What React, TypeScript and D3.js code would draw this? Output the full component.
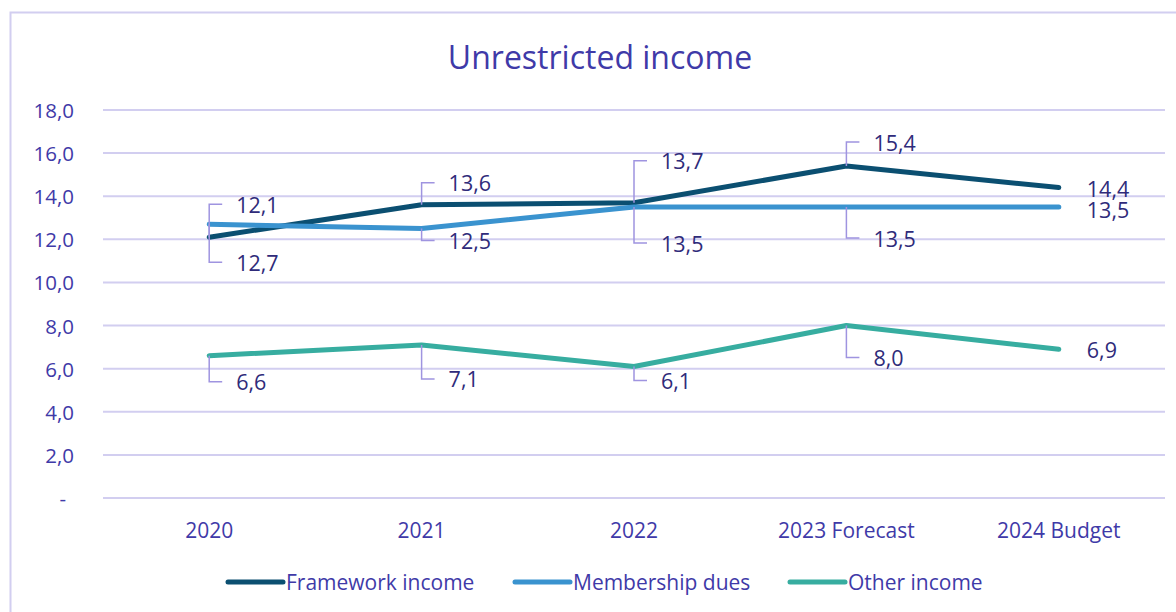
import React from "react";
import * as d3 from "d3";

const categories = ["2020", "2021", "2022", "2023 Forecast", "2024 Budget"];
const frameworkIncome = [12.1, 13.6, 13.7, 15.4, 14.4];
const membershipDues = [12.7, 12.5, 13.5, 13.5, 13.5];
const otherIncome = [6.6, 7.1, 6.1, 8.0, 6.9];
const yTicks = [0, 2, 4, 6, 8, 10, 12, 14, 16, 18];

const seriesNames = ["Framework income", "Membership dues", "Other income"];
const seriesColors = ["#0B4F71", "#3A93CF", "#37ADA0"];

// label vertical offsets (px) relative to the point, and whether a leader line is drawn
const labelOffsets = [
  [-33, -22, -42, -24, 1],
  [38, 12, 36, 31, 2],
  [26, 34, 14, 32, 0],
];
const hasLeader = [
  [true, true, true, true, false],
  [true, true, true, true, false],
  [true, true, true, true, false],
];

const W = 1176;
const H = 612;
const FONT = "'Open Sans', sans-serif";
const TEXT = "#3F3AA8";
const LABEL = "#2F2B7A";
const GRID = "#D2CEF0";
const LEADER = "#9F94E0";

export default function App() {
  const x = d3.scalePoint<string>().domain(categories).range([103, 1165]).padding(0.5);
  const y = d3.scaleLinear().domain([0, 18]).range([498, 110]);
  const series = [frameworkIncome, membershipDues, otherIncome];
  const line = d3
    .line<number>()
    .x((_, i) => x(categories[i]) as number)
    .y((d) => y(d));
  const fmt = (v: number) => (v === 0 ? "-" : d3.format(".1f")(v).replace(".", ","));
  const legendX = [228, 515, 790];

  return (
    <svg width={W} height={H} style={{ position: "absolute", left: 0, top: 0, background: "#fff" }}>
      <rect x={10.5} y={12.5} width={1200} height={700} fill="#fff" stroke={GRID} strokeWidth={2} />
      <text x={600} y={56} textAnchor="middle" dominantBaseline="central" fontFamily={FONT} fontSize={32} fill={TEXT}>
        Unrestricted income
      </text>
      {yTicks.map((t) => (
        <g key={t}>
          <line x1={103} x2={1165} y1={y(t)} y2={y(t)} stroke={GRID} strokeWidth={2} />
          <text x={t === 0 ? 66 : 74} y={y(t)} textAnchor="end" dominantBaseline="central" fontFamily={FONT} fontSize={20.5} fill={TEXT}>
            {fmt(t)}
          </text>
        </g>
      ))}
      {categories.map((c) => (
        <text key={c} x={x(c)} y={530} textAnchor="middle" dominantBaseline="central" fontFamily={FONT} fontSize={21} fill={TEXT}>
          {c}
        </text>
      ))}
      {series.map((s, si) => (
        <path key={si} d={line(s) as string} fill="none" stroke={seriesColors[si]} strokeWidth={5} strokeLinecap="round" strokeLinejoin="round" />
      ))}
      {series.map((s, si) =>
        s.map((v, i) => {
          const px = x(categories[i]) as number;
          const py = y(v);
          const off = labelOffsets[si][i];
          const ly = py + off;
          const lead = hasLeader[si][i];
          return (
            <g key={`${si}-${i}`}>
              {lead && (
                <path d={`M${px},${py}V${ly}H${px + 13}`} fill="none" stroke={LEADER} strokeWidth={1.5} />
              )}
              <text
                x={lead ? px + 27 : px + 28}
                y={ly}
                dominantBaseline="central"
                fontFamily={FONT}
                fontSize={21.5}
                fill={LABEL}
              >
                {fmt(v)}
              </text>
            </g>
          );
        })
      )}
      {seriesNames.map((n, i) => (
        <g key={n}>
          <line x1={legendX[i]} x2={legendX[i] + 55} y1={582} y2={582} stroke={seriesColors[i]} strokeWidth={5} strokeLinecap="round" />
          <text x={legendX[i] + 58} y={582} dominantBaseline="central" fontFamily={FONT} fontSize={21} fill={TEXT}>
            {n}
          </text>
        </g>
      ))}
    </svg>
  );
}
